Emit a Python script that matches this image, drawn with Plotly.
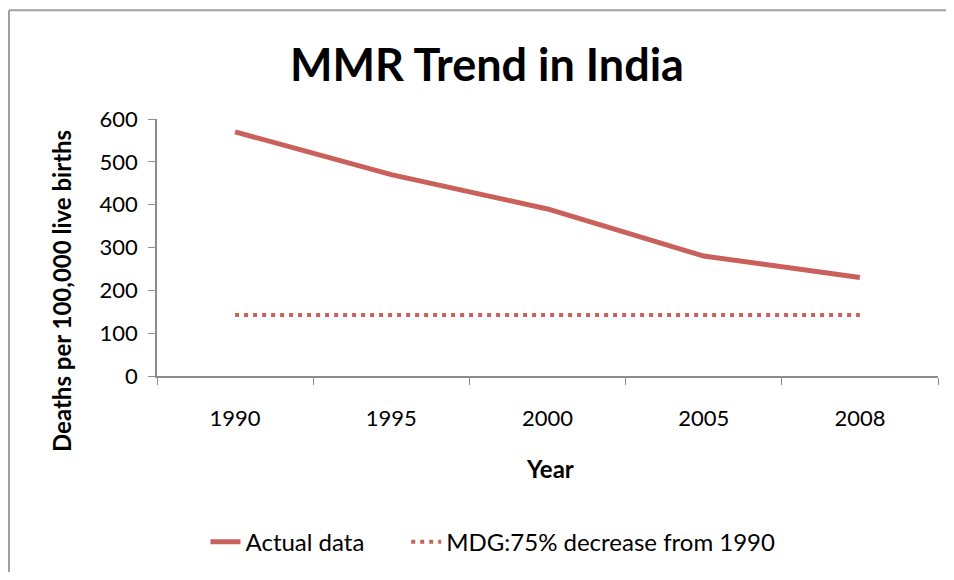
import plotly.graph_objects as go

years = ["1990", "1995", "2000", "2005", "2008"]
actual_mmr = [570, 470, 390, 280, 230]
mdg_target = [142.5, 142.5, 142.5, 142.5, 142.5]
y_ticks = [0, 100, 200, 300, 400, 500, 600]

RED = "#C9605A"
AXIS = "#8C8C8C"
FONT = "Lato, Open Sans, sans-serif"

# the page body has an 8px margin: work in page pixels
OFF = 8
W, H = 954 - 2 * OFF, 580 - 2 * OFF
L, T = 157 - OFF, 119 - OFF
R, B = W - (938 - OFF), H - (379 - OFF)
pw, ph = W - L - R, H - T - B


def px_x(p):
    return (p - OFF - L) / pw


def px_y(p):
    return (H - B - (p - OFF)) / ph


GAP = "&nbsp;" * 6

fig = go.Figure()
fig.add_trace(go.Scatter(
    x=years, y=actual_mmr, mode="lines", name="Actual data" + GAP,
    line=dict(color=RED, width=5),
))
fig.add_trace(go.Scatter(
    x=years, y=mdg_target, mode="lines", name="MDG:75% decrease from 1990",
    line=dict(color=RED, width=4, dash="4px,5px"),
))

fig.update_layout(
    width=W, height=H,
    margin=dict(l=L, r=R, t=T, b=B),
    paper_bgcolor="white", plot_bgcolor="white",
    font=dict(family=FONT, size=22, color="black"),
    showlegend=True,
    legend=dict(orientation="h", x=px_x(493), xanchor="center", y=px_y(547), yanchor="middle",
                font=dict(size=24), traceorder="normal"),
    shapes=[
        dict(type="line", xref="paper", yref="paper",
             x0=px_x(9), x1=px_x(9), y0=px_y(9), y1=px_y(590),
             line=dict(color="#A0A0A0", width=2), layer="below"),
        dict(type="line", xref="paper", yref="paper",
             x0=px_x(9), x1=px_x(970), y0=px_y(9), y1=px_y(9),
             line=dict(color="#A0A0A0", width=2), layer="below"),
    ],
    annotations=[
        dict(text="<b>MMR Trend in India</b>", xref="paper", yref="paper",
             x=px_x(487), y=px_y(63), xanchor="center", yanchor="middle",
             showarrow=False, font=dict(size=45)),
        dict(text="<b>Deaths per 100,000 live births</b>", xref="paper", yref="paper",
             x=px_x(62), y=px_y(293), xanchor="center", yanchor="middle",
             textangle=-90, showarrow=False, font=dict(size=24)),
        dict(text="<b>Year</b>", xref="paper", yref="paper",
             x=px_x(550), y=px_y(473), xanchor="center", yanchor="middle",
             showarrow=False, font=dict(size=24)),
    ],
)
fig.update_xaxes(
    type="category", range=[-0.5, 4.5], showline=True, linecolor=AXIS, linewidth=1.5,
    ticks="outside", tickson="boundaries", ticklen=7, tickcolor=AXIS,
    showgrid=False, zeroline=False, ticklabelstandoff=22,
)
fig.update_yaxes(
    range=[0, 600], tickvals=y_ticks, showline=True, linecolor=AXIS, linewidth=1.5,
    ticks="outside", ticklen=7, tickcolor=AXIS, showgrid=False, zeroline=False,
    ticklabelstandoff=6,
)

fig.write_html("out.html")
